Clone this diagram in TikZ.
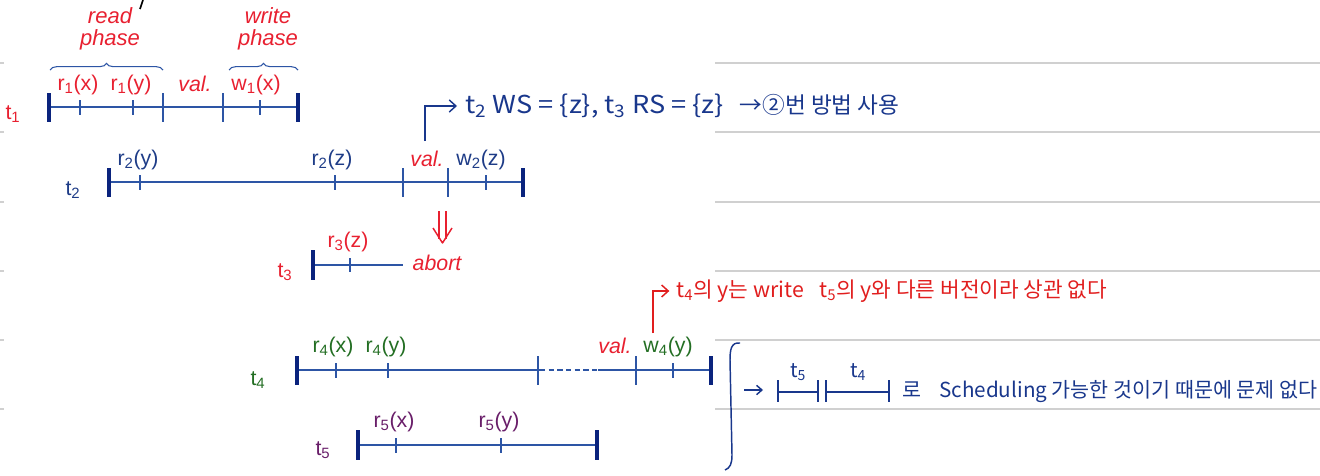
\documentclass[tikz,border=0pt]{standalone}
\usepackage{fontspec}
\setmainfont{Liberation Sans}
\newfontfamily\kr{Noto Sans CJK KR}
\usetikzlibrary{arrows.meta,decorations.pathreplacing}
\definecolor{rd}{RGB}{232,32,48}
\definecolor{tlblue}{RGB}{45,85,165}
\definecolor{navy}{RGB}{10,35,125}
\definecolor{dblue}{RGB}{30,60,135}
\definecolor{grn}{RGB}{35,110,35}
\definecolor{prp}{RGB}{105,30,105}
\definecolor{hwblue}{RGB}{25,55,140}
\definecolor{hwred}{RGB}{225,30,30}
\definecolor{rulegray}{RGB}{208,208,208}
\tikzset{
  tline/.style={tlblue, line width=1.1pt},
  endbar/.style={navy, line width=3pt},
  tk/.style={tlblue, line width=0.8pt},
  lbl/.style={font=\fontsize{16}{18}\selectfont, inner sep=0pt},
  ilbl/.style={lbl, font=\fontsize{16}{18}\selectfont\itshape},
  phtext/.style={inner sep=0pt, align=center, font=\fontsize{16.5}{16.5}\selectfont\itshape},
  phbrace/.style={tlblue, line width=0.8pt, decorate, decoration={brace, amplitude=5pt}},
  hw/.style={hwblue, line width=1.1pt},
  hwr/.style={hwred, line width=1.1pt},
  note/.style={inner sep=0pt, anchor=west},
  rulel/.style={rulegray, line width=1.3pt}
}
\begin{document}
\begin{tikzpicture}[x=0.75pt,y=-0.75pt]
\path[use as bounding box] (0,0) rectangle (1320,475);
% ruled lines
\foreach \y in {63,132,202,271,340,409}{
  \draw[rulel] (715,\y) -- (1320,\y);
  \draw[rulel] (0,\y) -- (4,\y);
}
\draw[black, line width=1.2pt] (143,0) -- (140,9);

% ---------- t1 ----------
\node[lbl, rd] (lt1) at (13,114) {t\textsubscript{1}};
\coordinate (t1s) at (49,107); \coordinate (t1e) at (298,107);
\draw[tline] (t1s) -- (t1e);
\draw[endbar] (49,93) -- (49,122);
\draw[endbar] (298,93) -- (298,122);
\foreach \x in {80,133,260} \draw[tk] (\x,100) -- (\x,115);
\foreach \x in {163,223} \draw[tk] (\x,93) -- (\x,122);
\node[lbl, rd] (r1x) at (78,85) {r\textsubscript{1}(x)};
\node[lbl, rd] (r1y) at (131,85) {r\textsubscript{1}(y)};
\node[ilbl, rd] (v1) at (195,84) {val.};
\node[lbl, rd] (w1x) at (256,85) {w\textsubscript{1}(x)};
\draw[phbrace] (50,70) -- (163,70);
\draw[phbrace] (229,70) -- (298,70);
\node[phtext, rd] (rp) at (110,29) {read\\phase};
\node[phtext, rd] (wp) at (268,29) {write\\phase};

% ---------- t2 ----------
\node[lbl, dblue] (lt2) at (73,190) {t\textsubscript{2}};
\coordinate (t2s) at (109,182); \coordinate (t2e) at (523,182);
\draw[tline] (t2s) -- (t2e);
\draw[endbar] (109,168) -- (109,197);
\draw[endbar] (523,168) -- (523,197);
\foreach \x in {140,335,486} \draw[tk] (\x,175) -- (\x,190);
\foreach \x in {403,448} \draw[tk] (\x,168) -- (\x,197);
\node[lbl, dblue] (r2y) at (138,160) {r\textsubscript{2}(y)};
\node[lbl, dblue] (r2z) at (332,160) {r\textsubscript{2}(z)};
\node[ilbl, rd] (v2) at (427,159) {val.};
\node[lbl, dblue] (w2z) at (481,160) {w\textsubscript{2}(z)};

% note about t2/t3
\node[note, hwblue, font=\kr\fontsize{18.5}{20}\selectfont] (noteB) at (465,106)
  {\scalebox{1.1}[1]{t\textsubscript{2} WS = \{z\}, t\textsubscript{3} RS = \{z\}}\hspace{12pt}{\fontsize{17}{20}\selectfont →②번 방법 사용}};
\coordinate (vb) at (425,141);
\draw[hw, -{Straight Barb[length=5pt,width=9pt]}] (vb) |- ([xshift=-6pt]noteB.west);

% double arrow
\draw[rd, line width=1.1pt] (439,211) -- (439,239) (446,211) -- (446,239);
\draw[rd, line width=1.1pt, line join=round] (433,228) -- (442.5,243) -- (452,228);

% ---------- t3 ----------
\node[lbl, rd] (lt3) at (285,272) {t\textsubscript{3}};
\coordinate (t3s) at (313,265); \coordinate (t3e) at (403,265);
\draw[tline] (t3s) -- (t3e);
\draw[endbar] (313,250) -- (313,280);
\draw[tk] (350,258) -- (350,272);
\node[lbl, rd] (r3z) at (348,242) {r\textsubscript{3}(z)};
\node[ilbl, rd] (ab) at (437,263) {abort};

% ---------- t4 ----------
\node[lbl, grn] (lt4) at (258,380) {t\textsubscript{4}};
\coordinate (t4s) at (297,370); \coordinate (t4d1) at (540,370);
\coordinate (t4d2) at (598,370); \coordinate (t4e) at (711,370);
\draw[tline] (t4s) -- (t4d1);
\draw[tline, dashed, dash pattern=on 4pt off 2.5pt] (t4d1) -- (t4d2);
\draw[tline] (t4d2) -- (t4e);
\draw[endbar] (297,356) -- (297,385);
\draw[endbar] (711,356) -- (711,385);
\foreach \x in {336,388,673} \draw[tk] (\x,363) -- (\x,378);
\foreach \x in {538,636} \draw[tk] (\x,356) -- (\x,385);
\node[lbl, grn] (r4x) at (333,347) {r\textsubscript{4}(x)};
\node[lbl, grn] (r4y) at (386,347) {r\textsubscript{4}(y)};
\node[ilbl, rd] (v4) at (615,346) {val.};
\node[lbl, grn] (w4y) at (668,347) {w\textsubscript{4}(y)};

% red note
\node[note, hwred, font=\kr\fontsize{16}{18}\selectfont] (noteR) at (676,291)
  {t\textsubscript{4}의 y는 write\hspace{8pt} t\textsubscript{5}의 y와 다른 버전이라 상관 없다};
\coordinate (vr) at (653,333);
\draw[hwr, -{Straight Barb[length=5pt,width=9pt]}] (vr) |- ([xshift=-5pt]noteR.west);

% ---------- t5 ----------
\node[lbl, prp] (lt5) at (323,450) {t\textsubscript{5}};
\coordinate (t5s) at (358,445); \coordinate (t5e) at (597,445);
\draw[tline] (t5s) -- (t5e);
\draw[endbar] (358,430) -- (358,460);
\draw[endbar] (597,430) -- (597,460);
\foreach \x in {396,501} \draw[tk] (\x,438) -- (\x,453);
\node[lbl, prp] (r5x) at (394,422) {r\textsubscript{5}(x)};
\node[lbl, prp] (r5y) at (499,422) {r\textsubscript{5}(y)};

% ---------- right brace and schedule note ----------
\draw[hw] (740,343) .. controls (731,342) and (730,350) .. (730,360)
  -- (732,455) .. controls (732,464) and (730,468) .. (725,470);
\coordinate (ar1) at (744,390); \coordinate (ar2) at (763,390);
\draw[hw, -{Straight Barb[length=4pt,width=7pt]}] (ar1) -- (ar2);
\coordinate (m5s) at (778,392); \coordinate (m5e) at (818,392);
\coordinate (m4s) at (826,392); \coordinate (m4e) at (889,392);
\draw[hw] (m5s) -- (m5e);
\draw[hw] (m4s) -- (m4e);
\foreach \x in {778,818,826,889} \draw[hw] (\x,380) -- (\x,402);
\node[hwblue, inner sep=0pt, font=\kr\fontsize{15}{16}\selectfont] (mt5) at (798,372) {t\textsubscript{5}};
\node[hwblue, inner sep=0pt, font=\kr\fontsize{15}{16}\selectfont] (mt4) at (858,372) {t\textsubscript{4}};
\node[note, hwblue, font=\kr\fontsize{15.5}{18}\selectfont] (noteS) at (902,392)
  {로\hspace{10pt} Scheduling 가능한 것이기 때문에 문제 없다};
\end{tikzpicture}
\end{document}
